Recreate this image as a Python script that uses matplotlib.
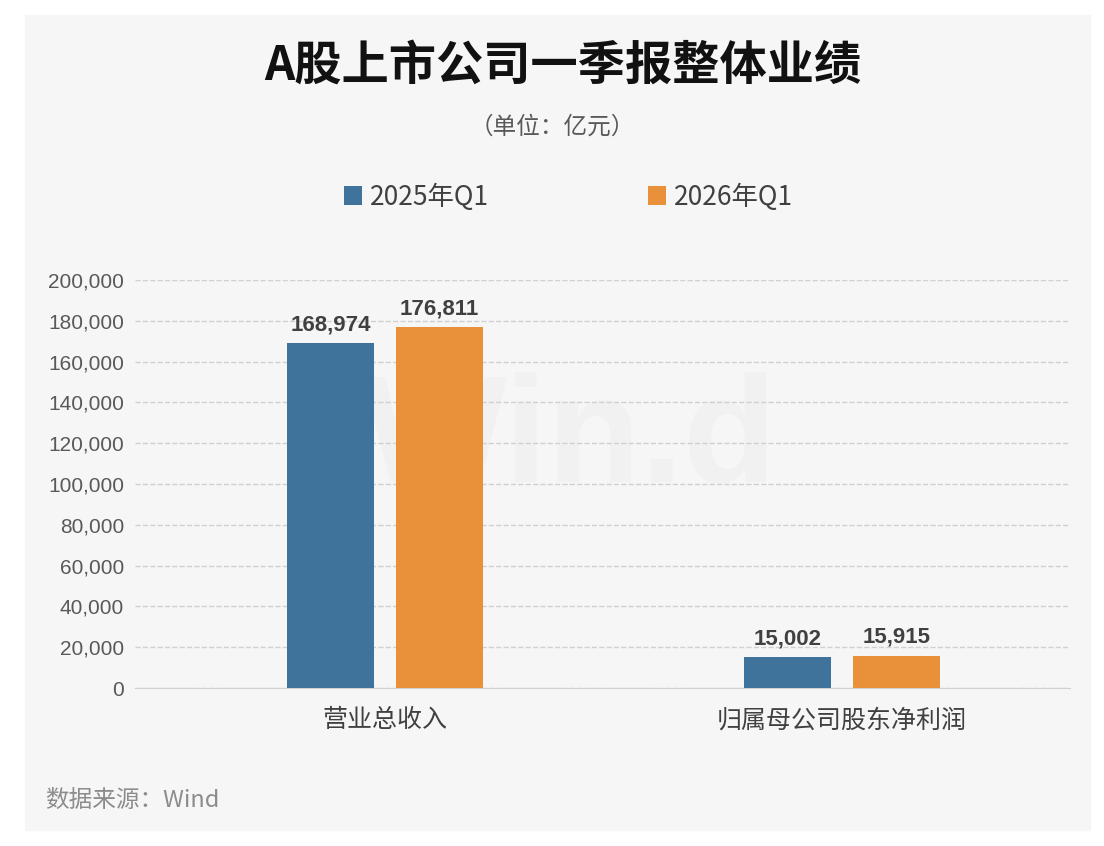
import matplotlib.pyplot as plt
from matplotlib.patches import Rectangle
import numpy as np

plt.rcParams['font.family'] = ['Noto Sans CJK SC', 'DejaVu Sans']

categories = ['营业总收入', '归属母公司股东净利润']
q1_2025 = [168974, 15002]
q1_2026 = [176811, 15915]
series_names = ['2025年Q1', '2026年Q1']
colors = ['#3f739c', '#e8903a']

fig = plt.figure(figsize=(11.04, 8.46), dpi=100)
fig.patch.set_facecolor('white')
bg = Rectangle((25 / 1104, 1 - 830 / 846), 1065 / 1104, 815 / 846,
               transform=fig.transFigure, color='#f6f6f6', zorder=-10)
fig.add_artist(bg)

ax = fig.add_axes([135 / 1104, 1 - 688 / 846, 935 / 1104, 408 / 846])
ax.set_facecolor('none')

x = np.arange(len(categories))
w = 0.19
off = 0.119
b1 = ax.bar(x - off, q1_2025, w, color=colors[0], label=series_names[0], zorder=3)
b2 = ax.bar(x + off, q1_2026, w, color=colors[1], label=series_names[1], zorder=3)
for bars in (b1, b2):
    for r in bars:
        ax.text(r.get_x() + r.get_width() / 2, r.get_height() + 4000, f'{int(r.get_height()):,}',
                ha='center', va='bottom', fontsize=16, fontweight='bold', color='#404040', zorder=4,
                family=['Liberation Sans', 'DejaVu Sans'])

ax.set_xlim(-0.547, 1.499)
ax.set_ylim(0, 200000)
ax.set_yticks(np.arange(0, 200001, 20000))
ax.set_yticklabels([f'{v:,}' for v in range(0, 200001, 20000)], fontsize=15, color='#595959',
                   family=['Liberation Sans', 'DejaVu Sans'])
ax.set_xticks(x)
ax.set_xticklabels(categories, fontsize=18, color='#404040')
ax.tick_params(axis='both', length=0)
ax.tick_params(axis='x', pad=14)
ax.tick_params(axis='y', pad=8)
ax.grid(axis='y', linestyle='--', color='#d0d0d0', linewidth=1, zorder=0)
for s in ['top', 'right', 'left']:
    ax.spines[s].set_visible(False)
ax.spines['bottom'].set_color('#d0d0d0')

# 背景水印
ax.text(0.465, 0.6, 'Win.d', transform=ax.transAxes, ha='center', va='center',
        fontsize=110, fontweight='bold', color='#e6e6e6', alpha=0.3, zorder=1,
        family=['Liberation Sans', 'DejaVu Sans'])

fig.text(0.51, 1 - 66 / 846, 'A股上市公司一季报整体业绩', ha='center', va='center',
         fontsize=34, fontweight='bold', color='#111111')
fig.text(0.5, 1 - 127 / 846, '（单位：亿元）', ha='center', va='center', fontsize=17, color='#595959')

leg = fig.legend(handles=[b1, b2], loc='center', bbox_to_anchor=(0.515, 1 - 197 / 846), ncol=2,
                 frameon=False, fontsize=19, handlelength=0.7, handleheight=0.7,
                 columnspacing=6, handletextpad=0.3)
for t in leg.get_texts():
    t.set_color('#404040')

fig.text(45 / 1104, 1 - 800 / 846, '数据来源：Wind', ha='left', va='center', fontsize=17, color='#8c8c8c')

fig.savefig('out.png', dpi=100)
